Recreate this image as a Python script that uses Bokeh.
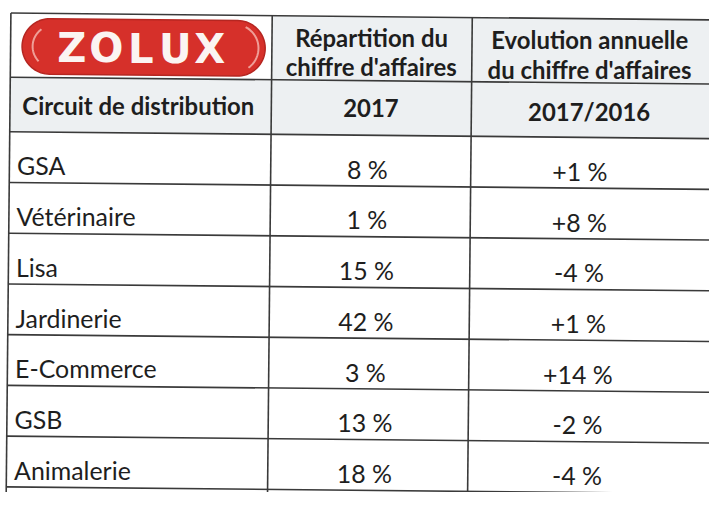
import numpy as np
from bokeh.plotting import figure
from bokeh.models import Range1d, ColumnDataSource
from bokeh.core.properties import value
from bokeh.embed import file_html
from bokeh.resources import INLINE

# ---- data ----
circuits = ["GSA", "Vétérinaire", "Lisa", "Jardinerie", "E-Commerce", "GSB", "Animalerie"]
repartition_2017 = [8, 1, 15, 42, 3, 13, 18]
evolution_2017_2016 = [1, 8, -4, 1, 14, -2, -4]
header_col1 = "Circuit de distribution"
header_col2 = ["Répartition du", "chiffre d'affaires", "2017"]
header_col3 = ["Evolution annuelle", "du chiffre d'affaires", "2017/2016"]
brand = "ZOLUX"

# ---- layout (reference pixels, y downward) ----
W, H = 709, 492
K = H / 514.0           # fit the 725x508 layout into the figure
S = 0.0098              # slight scan skew
col_edges = [11, 284, 493, 780]
row_h = 53
logo_top, logo_bot, head_bot = 13, 80, 137
row_edges = [logo_top, logo_bot, head_bot] + [head_bot + row_h * (i + 1) for i in range(len(circuits) + 1)]


def px(v):
    return f"{v * K:.1f}px"


def rot(x, y):
    x = np.asarray(x, dtype=float)
    y = np.asarray(y, dtype=float)
    return (x - S * y).tolist(), (y + S * x).tolist()


p = figure(width=W, height=H, x_range=Range1d(0, W / K), y_range=Range1d(H / K, 0),
           output_backend="svg", toolbar_location=None, min_border=0)
p.xaxis.visible = False
p.yaxis.visible = False
p.grid.visible = False
p.outline_line_color = None
p.background_fill_color = "#ffffff"
p.border_fill_color = "#ffffff"

# header backgrounds
hx, hy = [], []
for (x0, x1, y0, y1) in [(col_edges[0], col_edges[3], logo_bot, head_bot),
                         (col_edges[1], col_edges[3], logo_top, logo_bot)]:
    a, b = rot([x0, x1, x1, x0], [y0, y0, y1, y1])
    hx.append(a)
    hy.append(b)
p.patches(hx, hy, fill_color="#edf0f2", line_color=None)

# grid lines
lx, ly = [], []
for y in row_edges:
    a, b = rot([col_edges[0], col_edges[3]], [y, y])
    lx.append(a)
    ly.append(b)
for x in col_edges[:3]:
    a, b = rot([x, x], [row_edges[0], row_edges[-1] + 60])
    lx.append(a)
    ly.append(b)
p.multi_line(lx, ly, line_color="#3a3a3a", line_width=1.6)

# logo pill
cx, cy, half, r = 150, 47.5, 98, 29
t1 = np.linspace(-np.pi / 2, np.pi / 2, 40)
t2 = np.linspace(np.pi / 2, 3 * np.pi / 2, 40)
qx = np.concatenate([cx + half + r * np.cos(t1), cx - half + r * np.cos(t2)])
qy = np.concatenate([cy + r * np.sin(t1), cy + r * np.sin(t2)])
qx, qy = rot(qx, qy)
p.patch(qx, qy, fill_color="#d6302a", line_color="#b52621", line_width=1.5)
ta = np.linspace(0.75 * np.pi, 1.3 * np.pi, 20)
ax_, ay_ = rot(cx - half + 4 + (r - 7) * np.cos(ta), cy + (r - 7) * np.sin(ta))
tb = np.linspace(-0.35 * np.pi, 0.3 * np.pi, 20)
bx_, by_ = rot(cx + half - 3 + (r - 4) * np.cos(tb), cy + (r - 4) * np.sin(tb))
p.multi_line([ax_, bx_], [ay_, by_], line_color="#f3b2aa", line_width=2, line_alpha=0.85)

letters = list(brand)
lxs = [147 + (i - (len(letters) - 1) / 2) * 36 for i in range(len(letters))]
lxs, lys = rot(lxs, [49] * len(letters))
p.text(x=lxs, y=lys, text=letters, text_font=value("DejaVu Sans"), text_font_style="bold",
       text_font_size=px(42), text_color="#fbf4f2", text_align="center", text_baseline="middle")

# header texts
mid2 = 388
mid3 = 616
hx_ = [145, mid2, mid2, mid2, mid3, mid3, mid3]
hy_ = [108.5, 35, 65, 108.5, 35, 66, 110]
htxt = [header_col1] + header_col2 + header_col3
hx_, hy_ = rot(hx_, hy_)
p.text(x=hx_, y=hy_, text=htxt, text_font=value("Lato"), text_font_style="bold",
       text_font_size=px(25), text_color="#1e1e1e", text_align="center", text_baseline="middle")

# body texts
n = len(circuits)
row_y = [head_bot + row_h * i + 35 for i in range(n)]
lab_x, lab_y = rot([19] * n, row_y)
rep_x, rep_y = rot([385] * n, row_y)
evo_x, evo_y = rot([607] * n, row_y)
rep_txt = [f"{v} %" for v in repartition_2017]
evo_txt = [(f"+{v} %" if v > 0 else f"{v} %") for v in evolution_2017_2016]

src_lab = ColumnDataSource(dict(x=lab_x, y=lab_y, t=circuits))
src_val = ColumnDataSource(dict(x=rep_x + evo_x, y=rep_y + evo_y, t=rep_txt + evo_txt))
p.text(x="x", y="y", text="t", source=src_lab, text_font=value("Lato"), text_font_size=px(26),
       text_color="#1e1e1e", text_align="left", text_baseline="middle")
p.text(x="x", y="y", text="t", source=src_val, text_font=value("Lato"), text_font_size=px(26),
       text_color="#1e1e1e", text_align="center", text_baseline="middle")

open("out.html", "w").write(file_html(p, INLINE))
